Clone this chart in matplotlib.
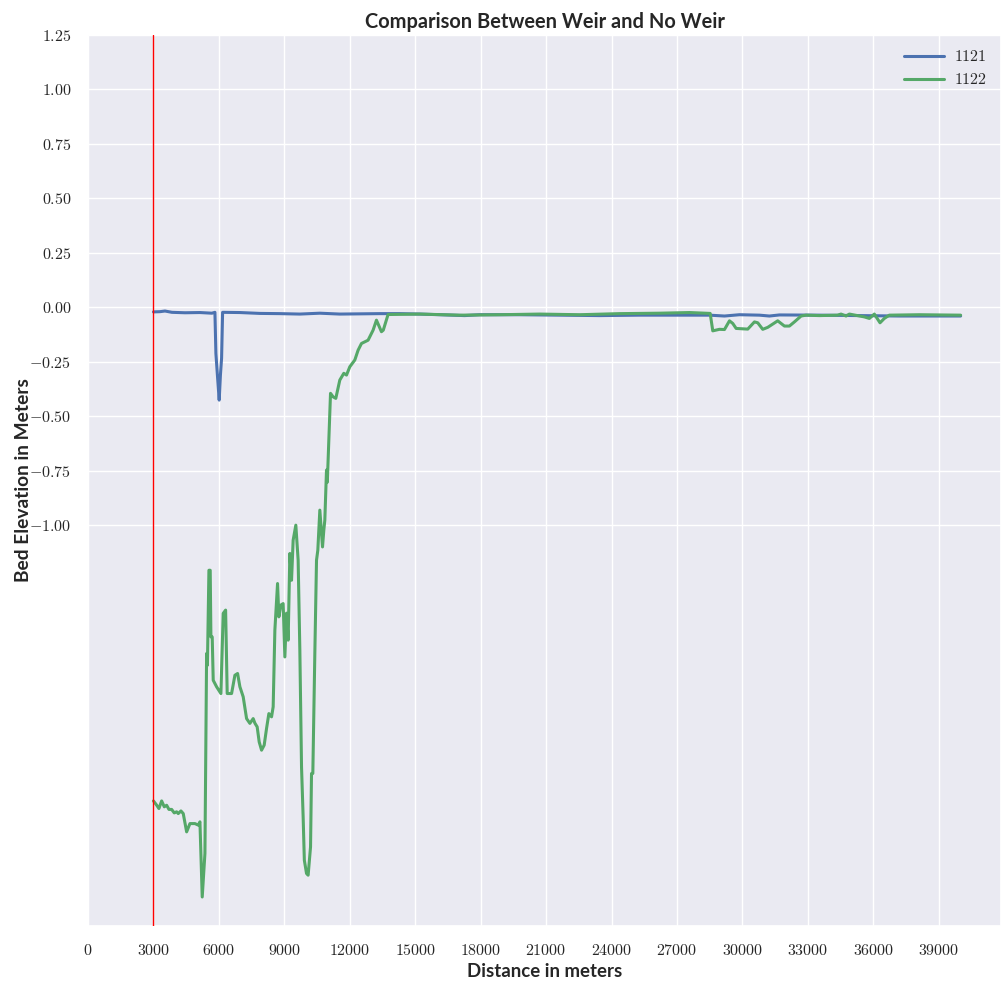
import matplotlib
matplotlib.use("Agg")
import matplotlib.pyplot as plt
from matplotlib.ticker import FixedLocator, FuncFormatter
import seaborn as sns

sns.set_theme(style="darkgrid")
plt.rcParams["mathtext.fontset"] = "cm"

# Bed elevation profiles along the channel (distance in m, elevation in m)
dist_1121 = [3000, 3298, 3527, 3847, 4443, 5130, 5679, 5817, 5862, 5931, 6013,
             6069, 6123, 6169, 6962, 7878, 8794, 9710, 10626, 11542, 12458,
             13374, 14290, 15206, 16122, 17267, 17954, 19786, 21618, 23450,
             25282, 27114, 28488, 29175, 29862, 30778, 31236, 31693, 33526,
             35358, 37190, 40000]
elev_1121 = [-0.021, -0.020, -0.017, -0.023, -0.025, -0.024, -0.027, -0.023,
             -0.212, -0.311, -0.426, -0.311, -0.233, -0.023, -0.024, -0.028,
             -0.029, -0.031, -0.027, -0.031, -0.030, -0.029, -0.029, -0.031,
             -0.034, -0.038, -0.034, -0.034, -0.036, -0.038, -0.036, -0.036,
             -0.036, -0.040, -0.034, -0.036, -0.040, -0.035, -0.036, -0.038,
             -0.040, -0.040]

dist_1122 = [3000, 3150, 3250, 3375, 3495, 3604, 3710, 3833, 3953, 4062, 4136,
             4259, 4365, 4520, 4672, 4901, 5052, 5130, 5235, 5359, 5436, 5473,
             5542, 5601, 5633, 5693, 5739, 5894, 6091, 6151, 6197, 6307, 6380,
             6581, 6733, 6856, 6962, 7113, 7268, 7420, 7571, 7649, 7754, 7846,
             7955, 8075, 8184, 8290, 8413, 8487, 8565, 8688, 8748, 8839, 8945,
             9023, 9100, 9174, 9252, 9329, 9403, 9526, 9632, 9710, 9787, 9861,
             9916, 10016, 10090, 10200, 10245, 10305, 10397, 10474, 10534,
             10626, 10694, 10749, 10809, 10855, 10932, 10969, 11015, 11116,
             11235, 11358, 11542, 11725, 11849, 12000, 12229, 12380, 12535,
             12838, 13067, 13222, 13451, 13534, 13754, 15206, 17038, 18870,
             20702, 22534, 24366, 26198, 27572, 28520, 28639, 28946, 29175,
             29404, 29555, 29710, 30242, 30549, 30700, 30929, 31158, 31616,
             31923, 32152, 32381, 32687, 32916, 33526, 34357, 34519, 34748,
             34900, 35587, 35816, 36045, 36306, 36503, 36732, 38106, 40000]
elev_1122 = [-2.266, -2.286, -2.301, -2.266, -2.293, -2.286, -2.305, -2.305,
             -2.321, -2.316, -2.324, -2.312, -2.324, -2.408, -2.370, -2.370,
             -2.377, -2.362, -2.707, -2.507, -1.589, -1.643, -1.207, -1.207,
             -1.513, -1.513, -1.712, -1.742, -1.773, -1.559, -1.405, -1.390,
             -1.773, -1.773, -1.689, -1.681, -1.742, -1.788, -1.888, -1.910,
             -1.888, -1.909, -1.926, -1.995, -2.033, -2.010, -1.933, -1.865,
             -1.880, -1.834, -1.482, -1.268, -1.421, -1.367, -1.360, -1.605,
             -1.404, -1.528, -1.130, -1.253, -1.069, -1.000, -1.161, -1.574,
             -2.110, -2.339, -2.538, -2.599, -2.607, -2.477, -2.140, -2.140,
             -1.589, -1.161, -1.115, -0.931, -1.023, -1.100, -1.023, -0.977,
             -0.747, -0.803, -0.679, -0.395, -0.411, -0.418, -0.334, -0.303,
             -0.311, -0.273, -0.242, -0.197, -0.166, -0.151, -0.105, -0.059,
             -0.112, -0.105, -0.033, -0.031, -0.036, -0.034, -0.031, -0.034,
             -0.029, -0.027, -0.024, -0.028, -0.108, -0.101, -0.102, -0.062,
             -0.074, -0.097, -0.100, -0.067, -0.071, -0.101, -0.092, -0.062,
             -0.086, -0.086, -0.067, -0.040, -0.036, -0.038, -0.036, -0.031,
             -0.040, -0.031, -0.044, -0.051, -0.031, -0.071, -0.051, -0.036,
             -0.034, -0.036]

series_names = ["1121", "1122"]
weir_location = 3000
x_ticks = list(range(0, 42000, 3000))
y_ticks = [-1.00, -0.75, -0.50, -0.25, 0.00, 0.25, 0.50, 0.75, 1.00, 1.25]

fig = plt.figure(figsize=(10.06, 9.81), dpi=100)
ax = fig.add_axes([0.0875, 0.0561, 0.9075, 0.9082])

ax.plot(dist_1121, elev_1121, color="#4C72B0", lw=2.2,
        label=f"${series_names[0]}$")
ax.plot(dist_1122, elev_1122, color="#55A868", lw=2.2,
        label=f"${series_names[1]}$")
ax.axvline(weir_location, color="#ff0000", lw=1.0, zorder=5)

ax.set_xlim(0, 41850)
ax.set_ylim(-2.84, 1.25)
ax.xaxis.set_major_locator(FixedLocator(x_ticks))
ax.yaxis.set_major_locator(FixedLocator(y_ticks))
ax.xaxis.set_major_formatter(FuncFormatter(lambda v, p: f"${int(v)}$"))
ax.yaxis.set_major_formatter(FuncFormatter(lambda v, p: f"${v:.2f}$"))
ax.tick_params(labelsize=11.5, pad=6)

ax.set_title("Comparison Between Weir and No Weir", pad=5,
             family="Lato", fontweight="bold", fontsize=14.4)
ax.set_xlabel("Distance in meters", labelpad=4,
              family="Lato", fontweight="bold", fontsize=13.4)
ax.set_ylabel("Bed Elevation in Meters", labelpad=-2,
              family="Lato", fontweight="bold", fontsize=13.8)

ax.legend(loc="upper right", frameon=False, fontsize=11.5,
          handlelength=2.5, handletextpad=0.6, borderaxespad=0.5)

fig.savefig("out.png", dpi=100)
